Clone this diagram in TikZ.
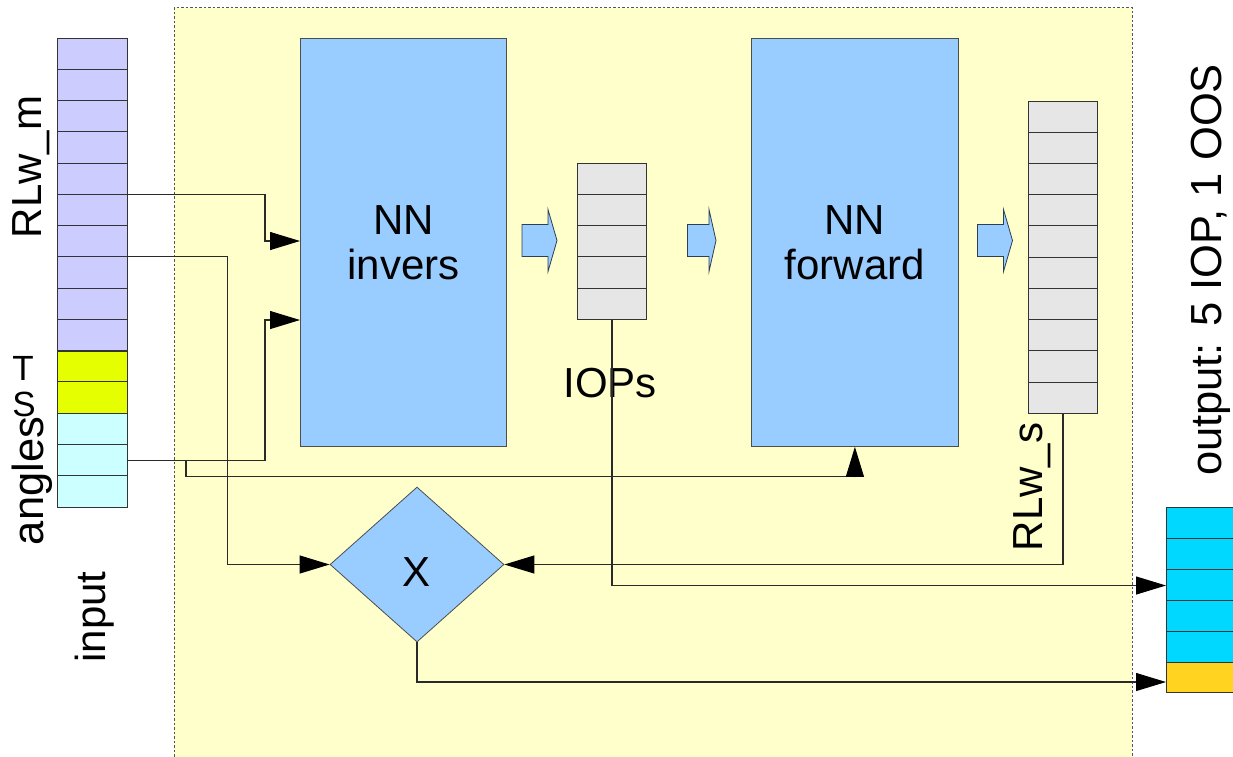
\documentclass[tikz,border=0pt]{standalone}
\usepackage{fontspec}
\setmainfont{Liberation Sans}
\usetikzlibrary{arrows.meta,shapes.geometric}
\definecolor{panelfill}{HTML}{FFFFCC}
\definecolor{paneledge}{HTML}{555555}
\definecolor{nnblue}{HTML}{99CCFF}
\definecolor{boxline}{HTML}{4D4D4D}
\definecolor{cellline}{HTML}{333333}
\definecolor{cellgray}{HTML}{E6E6E6}
\definecolor{inpurple}{HTML}{CCCCFF}
\definecolor{inyellow}{HTML}{E6FF00}
\definecolor{incyan}{HTML}{CCFFFF}
\definecolor{outcyan}{HTML}{00D8FF}
\definecolor{outyellow}{HTML}{FFD320}
\definecolor{lineclr}{HTML}{2A2A2A}
\definecolor{fatline}{HTML}{2E3E55}
\begin{document}
\begin{tikzpicture}[x=1pt,y=-1pt,
  txt/.style={font=\fontsize{42}{45}\selectfont, inner sep=0pt},
  bigtxt/.style={font=\fontsize{43.5}{45}\selectfont, inner sep=0pt},
  smalltxt/.style={font=\fontsize{35}{38}\selectfont, inner sep=0pt},
  nnbox/.style={draw=boxline, fill=nnblue, line width=0.8pt, minimum width=206pt,
    minimum height=408pt, anchor=north west, inner sep=0pt, align=center,
    font=\fontsize{42}{45}\selectfont},
  cellcol/.style={draw=cellline, line width=1pt, anchor=north west, minimum width=70pt, inner sep=0pt},
  divider/.style={draw=cellline, line width=1pt},
  conn/.style={draw=lineclr, line width=1.1pt},
  arr/.style={conn, -{Triangle[length=30pt,width=18pt,color=black]}},
  fat/.style={fill=nnblue, draw=fatline, line width=0.8pt, line join=miter},
]
\useasboundingbox (0,0) rectangle (1233,756);

% panel
\fill[panelfill] (174,7.5) rectangle (1132,770);
\draw[paneledge, line width=1pt, dash pattern=on 2.5pt off 2pt]
  (174,770) -- (174,7.5) -- (1132,7.5) -- (1132,770);

% input column
\node[cellcol, fill=inpurple, minimum height=312.7pt] (rlm) at (57,38) {};
\node[cellcol, fill=inyellow, minimum height=62.54pt] (angy) at (57,350.7) {};
\node[cellcol, fill=incyan, minimum height=93.8pt] (angc) at (57,413.24) {};
\foreach \k in {1,...,14} \draw[divider] (57,38+31.27*\k) -- (127,38+31.27*\k);

% NN boxes
\node[nnbox] (inv) at (300,38) {NN\\invers};
\node[nnbox, minimum width=207pt] (fwd) at (751,38) {NN\\forward};

% IOPs column
\node[cellcol, fill=cellgray, minimum width=69pt, minimum height=156pt] (iop) at (577,163.3) {};
\foreach \k in {1,...,4} \draw[divider] (577,163.3+31.2*\k) -- (646,163.3+31.2*\k);

% RLw_s column
\node[cellcol, fill=cellgray, minimum width=69pt, minimum height=312.5pt] (rls) at (1028,100.8) {};
\foreach \k in {1,...,9} \draw[divider] (1028,100.8+31.25*\k) -- (1097,100.8+31.25*\k);

% output column
\node[cellcol, fill=outcyan, minimum width=90pt, minimum height=155pt] (outc) at (1166,507) {};
\foreach \k in {1,...,4} \draw[divider] (1166,507+31*\k) -- (1256,507+31*\k);
\node[cellcol, fill=outyellow, minimum width=90pt, minimum height=30pt] (outy) at (1166,662) {};

% fat arrows
\foreach \a/\b/\c in {522/548/557, 687.5/709/716, 977.5/1003.5/1012.5}
  \draw[fat] (\a,224.5) -- (\b,224.5) -- (\b,209.5) -- (\c,240.5) -- (\b,271.5) -- (\b,256.5) -- (\a,256.5) -- cycle;

% multiplier
\node[draw=boxline, fill=nnblue, diamond, minimum width=174pt, minimum height=155pt,
  inner sep=0pt, line width=0.8pt] (mul) at (417,564.5) {};
\node[txt, anchor=base] (xlab) at (417,586) {X};

% labels
\node[txt, rotate=90, anchor=base] (lrlm) at (41,167) {RLw\_m};
\node[bigtxt, rotate=90, anchor=base] (lang) at (43,481) {angles};
\node[smalltxt, anchor=base] (ls) at (24,416) {S};
\node[smalltxt, anchor=base] (lt) at (23,380) {T};
\node[txt, rotate=90, anchor=base] (linp) at (105,617) {input};
\node[txt, rotate=90, anchor=base] (lrls) at (1042,487) {RLw\_s};
\node[bigtxt, rotate=90, anchor=base] (lout) at (1221,270) {output: 5 IOP, 1 OOS};
\node[txt, anchor=base] (liop) at (610,397) {IOPs};

% connector end points
\coordinate (m1) at (127,194.4);
\coordinate (m2) at (127,256.9);
\coordinate (a1) at (127,460.1);
\coordinate (ab) at (186,460.1);
\coordinate (in1) at (300,241);
\coordinate (in2) at (300,320);
\coordinate (o1) at (1166,585.5);
\coordinate (o2) at (1166,682);

% connectors
\draw[arr] (m1) -| ([xshift=-35pt]in1) -- (in1);
\draw[arr] (a1) -| ([xshift=-35pt]in2) -- (in2);
\draw[arr] (ab) |- ([yshift=-30pt]fwd.south) -- (fwd.south);
\draw[arr] (m2) -| ([xshift=-102pt]mul.west) -- (mul.west);
\draw[arr] (rls.south) |- (mul.east);
\draw[arr] (iop.south) |- (o1);
\draw[arr] (mul.south) |- (o2);
\end{tikzpicture}
\end{document}
